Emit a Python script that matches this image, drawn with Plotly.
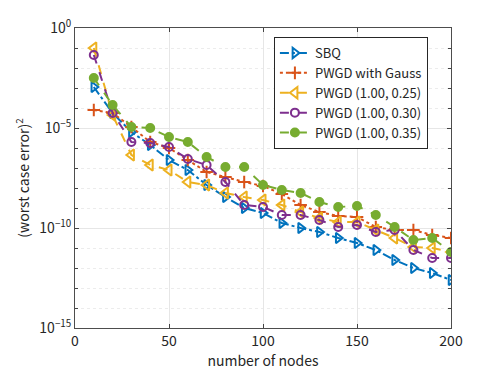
import plotly.graph_objects as go

nodes = [10, 20, 30, 40, 50, 60, 70, 80, 90, 100, 110, 120, 130, 140, 150, 160, 170, 180, 190, 200]
# log10 of squared worst case error
sbq_exp = [-2.95, -4.25, -5.2, -5.85, -6.6, -7.1, -7.85, -8.45, -9.0, -9.25, -9.75, -10.0, -10.2, -10.5, -10.75, -11.1, -11.6, -12.0, -12.25, -12.6]
gauss_exp = [-4.1, -4.25, -4.95, -5.7, -6.0, -6.6, -7.2, -7.45, -7.7, -7.9, -8.3, -8.85, -9.2, -9.4, -9.45, -9.95, -10.1, -10.1, -10.35, -10.5]
p25_exp = [-1.0, -4.35, -6.35, -6.85, -7.1, -7.7, -7.85, -8.25, -8.45, -8.6, -8.85, -9.2, -9.5, -9.7, -9.7, -10.1, -10.5, -10.95, -11.0, -11.2]
p30_exp = [-1.35, -4.25, -5.7, -5.75, -5.95, -6.55, -6.85, -7.7, -8.85, -8.95, -9.35, -9.35, -9.6, -9.95, -9.85, -10.2, -10.1, -11.1, -11.5, -11.5]
p35_exp = [-2.5, -3.85, -4.95, -5.0, -5.45, -5.7, -6.45, -6.95, -6.95, -7.85, -8.1, -8.25, -8.7, -8.95, -8.9, -9.35, -9.95, -10.6, -10.5, -11.2]

names = ["SBQ", "PWGD with Gauss", "PWGD (1.00, 0.25)", "PWGD (1.00, 0.30)", "PWGD (1.00, 0.35)"]
colors = ["#0072BD", "#D95319", "#EDB120", "#7E2F8E", "#77AC30"]
dashes = ["dashdot", "dot", "dash", "dash", "dash"]
symbols = ["triangle-right-open", "cross-thin-open", "triangle-left-open", "circle-open", "circle"]
msizes = [9, 9, 10, 8, 8]

ytickvals = [1e0, 1e-5, 1e-10, 1e-15]
yticktext = ["10<sup>0</sup>", "10<sup>−5</sup>", "10<sup>−10</sup>", "10<sup>−15</sup>"]
xtickvals = [0, 50, 100, 150, 200]

font = "Noto Sans CJK JP, Liberation Sans, sans-serif"

fig = go.Figure()
for name, exps, c, d, s, ms in zip(names, [sbq_exp, gauss_exp, p25_exp, p30_exp, p35_exp], colors, dashes, symbols, msizes):
    fig.add_trace(go.Scatter(
        x=nodes, y=[10 ** e for e in exps], name=name, mode="lines+markers",
        line=dict(color=c, width=2, dash=d),
        marker=dict(symbol=s, size=ms, color=c, line=dict(color=c, width=2)),
    ))

# the page body adds an 8px offset, so the figure is sized to fit the window
fig.update_layout(
    width=490, height=366,
    margin=dict(l=67, r=47, t=20, b=46),
    paper_bgcolor="white", plot_bgcolor="white",
    font=dict(family=font, size=13, color="#262626"),
    showlegend=True,
    legend=dict(x=0.529, y=0.97, xanchor="left", yanchor="top",
                bordercolor="#262626", borderwidth=1, bgcolor="white",
                font=dict(size=13), tracegroupgap=0, itemwidth=30),
)
fig.update_xaxes(
    range=[0, 200], tickvals=xtickvals, ticks="inside", ticklen=4,
    showline=True, linecolor="#4d4d4d", mirror="ticks", linewidth=1,
    showgrid=True, gridcolor="#e6e6e6", zeroline=False, automargin=False,
    title=dict(text="number of nodes", font=dict(size=14), standoff=2),
    tickfont=dict(size=14),
)
fig.update_yaxes(
    type="log", range=[-15, 0], tickvals=ytickvals, ticktext=yticktext,
    ticks="inside", ticklen=4,
    showline=True, linecolor="#4d4d4d", mirror="ticks", linewidth=1,
    showgrid=True, gridcolor="#e6e6e6", zeroline=False, automargin=False,
    minor=dict(tickvals=[10 ** (-k) for k in range(1, 15)], ticks="inside", ticklen=3,
               showgrid=True, gridcolor="#ececec", griddash="dot"),
    title=dict(text="(worst case error)<sup>2</sup>", font=dict(size=14), standoff=6),
    tickfont=dict(size=14),
)
fig.write_html("out.html")
